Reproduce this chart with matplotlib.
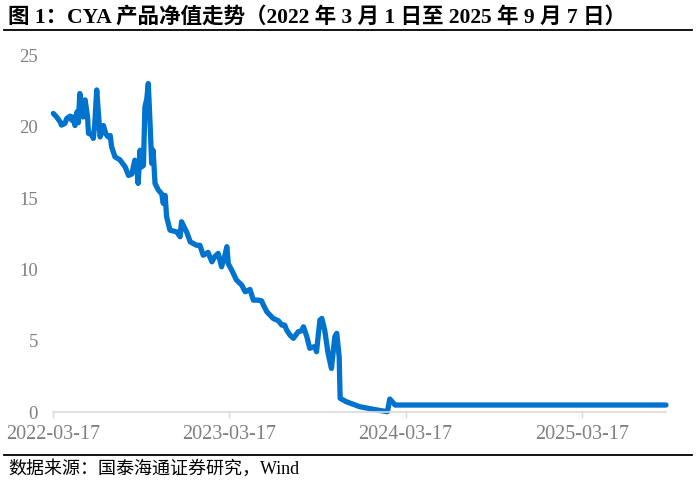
import numpy as np
import pandas as pd
import matplotlib
matplotlib.use('Agg')
import matplotlib.pyplot as plt
import matplotlib.dates as mdates
from matplotlib.lines import Line2D

# days after 2022-03-17
days = [0, 7, 14, 17, 24, 28, 35, 38, 41, 45, 49, 52, 55, 59, 62, 66, 71, 73, 80, 83,
        86, 90, 95, 97, 104, 109, 114, 118, 121, 128, 138, 149, 156, 163, 169, 173, 176, 180, 183, 187,
        190, 194, 197, 201, 204, 207, 211, 218, 225, 228, 232, 235, 242, 256, 263, 266, 277, 284, 297, 304,
        311, 321, 329, 335, 342, 349, 356, 360, 363, 370, 380, 391, 398, 408, 415, 425, 432, 436, 443, 456,
        467, 474, 480, 484, 491, 498, 508, 515, 519, 526, 532, 543, 546, 553, 557, 563, 570, 577, 581, 584,
        588, 593, 595, 608, 636, 664, 693, 698, 709, 719, 1271]
nav = [20.95, 20.7, 20.36, 20.13, 20.25, 20.6, 20.76, 20.48, 20.7, 20.1, 21.06, 20.3, 22.35, 21.5, 20.7, 21.9, 20.7, 19.55, 19.45, 19.2,
       20.2, 22.6, 20.3, 19.3, 20.1, 19.5, 19.3, 19.4, 18.6, 17.9, 17.7, 17.2, 16.6, 16.7, 17.67, 17.5, 16.04, 18.37, 17.2, 17.3,
       21.4, 22.0, 23.05, 20.0, 17.45, 18.37, 16.04, 15.57, 15.3, 14.64, 15.2, 13.7, 12.76, 12.64, 12.3, 13.35, 12.6, 11.94, 11.7, 11.7,
       11.0, 11.2, 10.54, 10.9, 11.13, 10.19, 11.0, 11.6, 10.4, 9.96, 9.26, 8.9, 8.44, 8.6, 7.85, 7.85, 7.8, 7.5, 7.03, 6.57,
       6.4, 6.1, 6.1, 5.75, 5.4, 5.17, 5.63, 5.7, 5.98, 5.28, 4.47, 4.6, 4.23, 6.45, 6.57, 5.75, 4.12, 3.06, 4.35, 5.28,
       5.52, 3.88, 0.96, 0.72, 0.37, 0.19, 0.02, 0.91, 0.49, 0.49, 0.49]
start = '2022-03-17'
tick_dates = ['2022-03-17', '2023-03-17', '2024-03-17', '2025-03-17']
end = '2025-09-08'

title = '图 1：CYA 产品净值走势（2022 年 3 月 1 日至 2025 年 9 月 7 日）'
source = '数据来源：国泰海通证券研究，Wind'

fonts = ['Liberation Serif', 'Noto Sans CJK SC']

dates = pd.Timestamp(start) + pd.to_timedelta(days, unit='D')

fig = plt.figure(figsize=(6.97, 4.82), dpi=100)
ax = fig.add_axes([0.0765, 0.1452, 0.879, 0.7392])

ax.plot(dates, nav, color='#0073CF', lw=3.8, solid_capstyle='round',
        solid_joinstyle='round', clip_on=False)

ax.set_ylim(0, 25)
ax.set_yticks([0, 5, 10, 15, 20, 25])
ax.set_xlim(pd.Timestamp(start), pd.Timestamp(end))
ax.set_xticks(pd.to_datetime(tick_dates))
ax.xaxis.set_major_formatter(mdates.DateFormatter('%Y-%m-%d'))

for s in ['top', 'right', 'left']:
    ax.spines[s].set_visible(False)
ax.spines['bottom'].set_color('#d9d9d9')
ax.spines['bottom'].set_linewidth(1.2)

ax.tick_params(axis='y', length=0, pad=11, labelsize=13.5, labelcolor='#808080')
ax.tick_params(axis='x', direction='out', length=4, width=1, color='#d9d9d9',
               pad=5, labelsize=14.5, labelcolor='#808080')
for lab in ax.get_xticklabels() + ax.get_yticklabels():
    lab.set_family('Liberation Serif')

fig.text(0.012, 0.965, title, family=fonts, fontweight='bold', fontsize=15.5,
         ha='left', va='center')
fig.add_artist(Line2D([0.006, 0.993], [0.937, 0.937], transform=fig.transFigure,
                      color='black', lw=1.3))
fig.add_artist(Line2D([0.006, 0.993], [0.055, 0.055], transform=fig.transFigure,
                      color='black', lw=1.3))
fig.text(0.012, 0.028, source, family=fonts, fontsize=13, ha='left', va='center')

fig.savefig('out.png', dpi=100)
